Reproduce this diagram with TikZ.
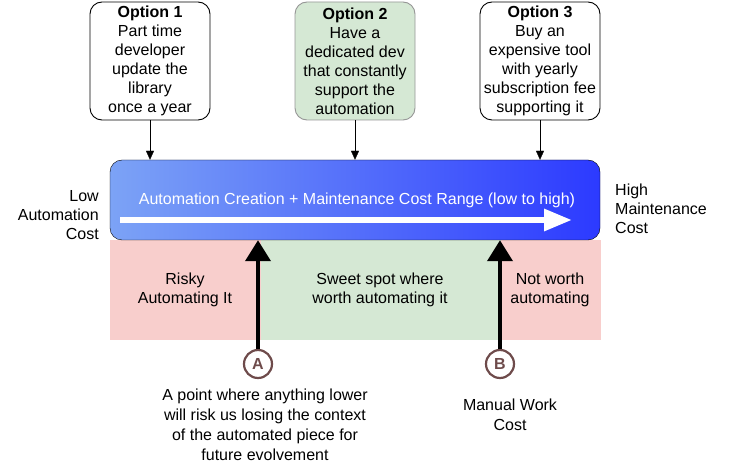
\documentclass[tikz,border=0pt]{standalone}
\usepackage{fontspec}
\setmainfont{Liberation Sans}
\usepackage{xcolor}
\usetikzlibrary{arrows.meta}
\usetikzlibrary{positioning}
\definecolor{barleft}{RGB}{124,163,246}
\definecolor{barright}{RGB}{44,58,255}
\definecolor{riskpink}{RGB}{248,206,204}
\definecolor{sweetgreen}{RGB}{213,232,212}
\definecolor{optgray}{RGB}{150,150,150}
\definecolor{markbrown}{RGB}{110,75,75}
\newcommand\lbl{\fontsize{16}{19}\selectfont}
\tikzset{
  optbox/.style = {draw, rounded corners=12pt, minimum width=120pt, minimum height=118pt, align=center, font=\lbl, inner sep=2pt},
  txt/.style = {align=center, font=\lbl, inner sep=0pt},
  markcircle/.style = {circle, draw=markbrown, line width=2.2pt, minimum size=28pt, inner sep=0pt, text=markbrown, font=\lbl\bfseries},
  pointer/.style = {line width=4pt, -{Triangle[width=25pt,length=21pt]}},
  feed/.style = {-{Triangle[width=8pt,length=9pt]}}
}

\begin{document}
\begin{tikzpicture}[x=1pt, y=-1pt]
\useasboundingbox (0,0) rectangle (731,465);
% zones below the range bar
\fill[riskpink] (110,240) rectangle (601,340);
\fill[sweetgreen] (261,240) rectangle (501,340);
% options
\node[optbox, line width=0.9pt] (opt1) at (150,61) {\textbf{Option 1}\\Part time\\developer\\update the\\library\\once a year};
\node[optbox, fill=sweetgreen, draw=optgray, line width=0.9pt] (opt2) at (355,61) {\textbf{Option 2}\\Have a\\dedicated dev\\that constantly\\support the\\automation};
\node[optbox, line width=0.9pt] (opt3) at (540,61) {\textbf{Option 3}\\Buy an\\expensive tool\\with yearly\\subscription fee\\supporting it};
% range bar
\node[draw, rounded corners=12pt, left color=barleft, right color=barright, minimum width=490pt, minimum height=80pt] (bar) at (355,200) {};
\node[txt, text=white] (barText) at (357,200) {Automation Creation + Maintenance Cost Range (low to high)};
\coordinate (rangeStart) at (120,220);
\coordinate (rangeEnd) at (572,220);
\draw[white, line width=6pt, -{Triangle[width=21pt,length=28pt]}] (rangeStart) -- (rangeEnd);
\node[txt, anchor=east, align=right] (lowCost) at (99,215) {Low\\Automation\\Cost};
\node[txt, anchor=west, align=left] (highCost) at (615,209) {High\\Maintenance\\Cost};
\draw[feed] (opt1.south) -- (opt1.south |- bar.north);
\draw[feed] (opt2.south) -- (opt2.south |- bar.north);
\draw[feed] (opt3.south) -- (opt3.south |- bar.north);
% zone labels
\node[txt] (risky) at (185,290) {Risky\\Automating It};
\node[txt] (sweet) at (380,290) {Sweet spot where\\worth automating it};
\node[txt] (notWorth) at (550,290) {Not worth\\automating};
% points A and B
\node[markcircle] (ptA) at (258,364) {A};
\node[markcircle] (ptB) at (500,364) {B};
\draw[pointer] (ptA.north) -- (ptA.north |- bar.south);
\draw[pointer] (ptB.north) -- (ptB.north |- bar.south);
\node[txt, font=\fontsize{16}{20}\selectfont] (descA) at (265,425) {A point where anything lower\\will risk us losing the context\\of the automated piece for\\future evolvement};
\node[txt, font=\fontsize{16}{20}\selectfont] (descB) at (510,415) {Manual Work\\Cost};
\end{tikzpicture}
\end{document}
